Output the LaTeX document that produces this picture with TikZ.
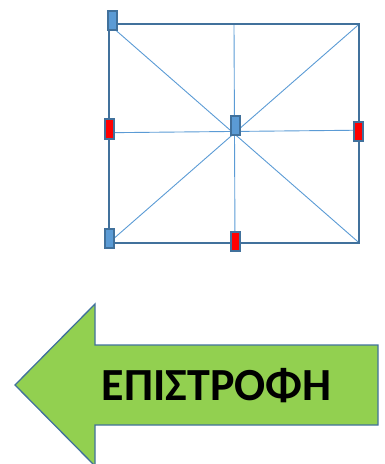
\documentclass[tikz,border=0pt]{standalone}
\usepackage{fontspec}
\setmainfont{Carlito}
\definecolor{frameblue}{HTML}{41719C}
\definecolor{lineblue}{HTML}{5B9BD5}
\definecolor{arrowgreen}{HTML}{92D050}
\begin{document}
\begin{tikzpicture}[x=1pt,y=-1pt,
  inner/.style={draw=lineblue,line width=0.9pt},
  frame/.style={draw=frameblue,line width=2pt},
  handle/.style={draw=frameblue,line width=2pt,minimum width=9pt,minimum height=19.5pt,inner sep=0pt,outer sep=0pt},
  bluehandle/.style={handle,fill=lineblue},
  redhandle/.style={handle,fill=red},
  arrowshape/.style={draw=frameblue,line width=1.3pt,fill=arrowgreen,line join=miter}]
\useasboundingbox (0,0) rectangle (385,464);
% square corners and midpoints
\coordinate (TL) at (109,24.3);
\coordinate (TR) at (359,24.3);
\coordinate (BR) at (359,242.7);
\coordinate (BL) at (109,242.7);
\coordinate (TM) at (234,24.3);
\coordinate (BM) at (235,242.7);
\coordinate (ML) at (109,132.7);
\coordinate (MR) at (359,130.2);
% inner lines
\draw[inner] (TL) -- (BR);
\draw[inner] (TR) -- (BL);
\draw[inner] (TM) -- (BM);
\draw[inner] (ML) -- (MR);
% frame
\draw[frame] (TL) -- (TR) -- (BR) -- (BL) -- cycle;
% handles
\node[bluehandle] (h1) at (112,20.3) {};
\node[bluehandle] (h2) at (235,125.5) {};
\node[redhandle] (h3) at (109.5,129.2) {};
\node[redhandle] (h4) at (358.2,131.5) {};
\node[bluehandle] (h5) at (109.2,238.7) {};
\node[redhandle] (h6) at (235.2,241.3) {};
% arrow
\draw[arrowshape] (15,385) -- (95,304) -- (95,345) -- (378,345) -- (378,425) -- (95,425) -- (95,466) -- cycle;
\node[font=\fontsize{46}{52}\selectfont\bfseries,inner sep=0pt] (label) at (216.7,385.8) {ΕΠΙΣΤΡΟΦΗ};
\end{tikzpicture}
\end{document}
